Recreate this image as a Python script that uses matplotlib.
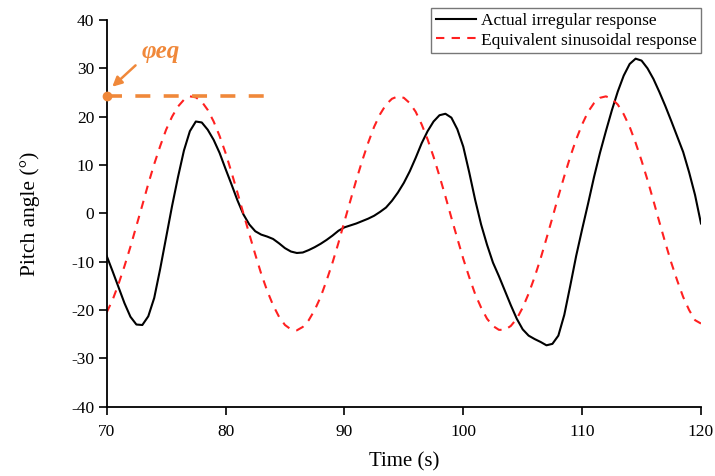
import matplotlib.pyplot as plt
from matplotlib.ticker import FuncFormatter

# Time axis (s), sampled every 0.5 s
time = [70 + 0.5 * i for i in range(101)]

# Actual irregular pitch response (deg)
actual = [
    -8.8, -12.0, -15.3, -18.6, -21.4, -23.0, -23.1, -21.3, -17.5, -11.5,
    -5.0, 1.5, 7.5, 13.0, 17.0, 19.0, 18.8, 17.3, 15.2, 12.5,
    9.2, 6.0, 2.7, -0.2, -2.3, -3.7, -4.4, -4.8, -5.3, -6.2,
    -7.2, -7.9, -8.2, -8.1, -7.6, -7.0, -6.3, -5.5, -4.6, -3.6,
    -2.9, -2.5, -2.1, -1.6, -1.1, -0.5, 0.3, 1.2, 2.6, 4.3,
    6.3, 8.7, 11.5, 14.5, 17.0, 19.0, 20.3, 20.6, 19.8, 17.4,
    13.8, 8.5, 2.8, -2.3, -6.5, -10.2, -13.0, -16.0, -19.0, -21.8,
    -24.0, -25.3, -26.0, -26.6, -27.3, -27.0, -25.3, -21.0, -15.0, -8.8,
    -3.3, 2.0, 7.5, 12.5, 17.0, 21.3, 25.2, 28.5, 30.9, 32.0,
    31.6, 30.0, 27.8, 25.1, 22.2, 19.1, 15.9, 12.7, 8.5, 3.8,
    -2.1,
]

# Equivalent sinusoidal response (deg)
equivalent = [
    -20.5, -17.9, -14.6, -10.9, -6.9, -2.6, 1.7, 6.1, 10.2, 13.9,
    17.3, 20.0, 22.1, 23.5, 24.2, 24.0, 23.1, 21.4, 19.0, 16.0,
    12.5, 8.5, 4.3, 0.0, -4.3, -8.5, -12.5, -16.0, -19.0, -21.4,
    -23.1, -24.0, -24.2, -23.5, -22.1, -20.0, -17.3, -13.9, -10.2, -6.1,
    -1.7, 2.6, 6.9, 10.9, 14.6, 17.9, 20.5, 22.5, 23.7, 24.2,
    23.9, 22.8, 21.0, 18.4, 15.3, 11.7, 7.7, 3.5, -0.9, -5.2,
    -9.4, -13.2, -16.7, -19.5, -21.8, -23.3, -24.1, -24.1, -23.3, -21.8,
    -19.5, -16.6, -13.2, -9.4, -5.2, -0.9, 3.5, 7.7, 11.7, 15.3,
    18.4, 21.0, 22.8, 23.9, 24.2, 23.7, 22.5, 20.5, 17.9, 14.6,
    10.9, 6.9, 2.6, -1.8, -6.1, -10.2, -13.9, -17.3, -20.0, -22.1,
    -22.8,
]

phi_eq = 24.2          # equivalent amplitude
phi_line_end = 83.2    # where the orange marker line stops

orange = '#F0883A'

plt.rcParams['font.family'] = ['Liberation Serif', 'DejaVu Serif']
plt.rcParams['axes.unicode_minus'] = False

fig = plt.figure(figsize=(7.15, 4.76), dpi=100)
ax = fig.add_axes([0.1492, 0.1456, 0.8312, 0.8124])

ax.plot(time, actual, color='black', lw=1.5, solid_joinstyle='round',
        label='Actual irregular response')
ax.plot(time, equivalent, color='#FF2020', lw=1.5, ls=(0, (4, 3.5)),
        label='Equivalent sinusoidal response')

# phi_eq marker
ax.plot([70, phi_line_end], [phi_eq, phi_eq], color=orange, lw=2.6,
        ls=(0, (4.15, 3.7)), clip_on=False, zorder=5)
ax.plot([70], [phi_eq], 'o', color=orange, ms=6, clip_on=False, zorder=6)
ax.annotate('', xy=(70.3, 25.8), xytext=(72.6, 31.0),
            arrowprops=dict(arrowstyle='-|>', color=orange, lw=1.8,
                            mutation_scale=14), annotation_clip=False)
ax.text(72.9, 33.4, 'φeq', color=orange, fontsize=18, fontstyle='italic',
        fontweight='bold', va='center', ha='left')

ax.set_xlim(70, 120)
ax.set_ylim(-40, 40)
ax.set_xticks(range(70, 121, 10))
ax.set_yticks(range(-40, 41, 10))
ax.yaxis.set_major_formatter(FuncFormatter(lambda v, p: '%d' % v))
ax.tick_params(direction='out', length=5.5, width=1.2, labelsize=12.5)
ax.tick_params(axis='x', pad=7)
for s in ['top', 'right']:
    ax.spines[s].set_visible(False)
for s in ['left', 'bottom']:
    ax.spines[s].set_linewidth(1.3)

ax.set_xlabel('Time (s)', fontsize=15, labelpad=9)
ax.set_ylabel('Pitch angle (°)', fontsize=15.5, labelpad=22)

leg = ax.legend(loc='upper right', fontsize=12.5, frameon=True, fancybox=False,
                edgecolor='#555555', borderpad=0.25, handlelength=2.3,
                handletextpad=0.3, labelspacing=0.2, borderaxespad=0.0,
                bbox_to_anchor=(1.0, 1.03))
leg.get_frame().set_linewidth(1.0)

fig.savefig('out.png', dpi=100)
